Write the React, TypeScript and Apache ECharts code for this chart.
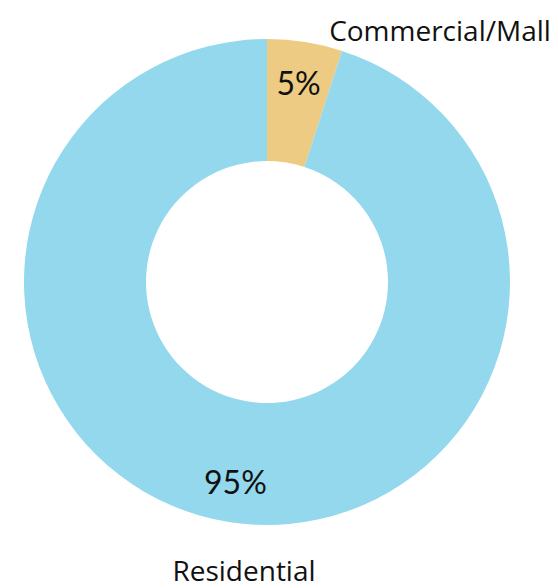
import React, { useEffect, useRef } from "react";
import * as echarts from "echarts";

const categories = ["Commercial/Mall", "Residential"];
const values = [5, 95];
const colors = ["#EDCB82", "#94D8EE"];

export default function App() {
  const ref = useRef<HTMLDivElement>(null);
  useEffect(() => {
    document.body.style.margin = "0";
    const chart = echarts.init(ref.current!, null, { renderer: "svg" });
    const data = categories.map((name, i) => ({ name, value: values[i], itemStyle: { color: colors[i] } }));
    const namePos: Record<number, [number, number]> = { 0: [440, 30], 1: [244, 570] };
    chart.setOption({
      animation: false,
      backgroundColor: "#ffffff",
      series: [
        {
          type: "pie",
          center: [267, 282],
          radius: [121, 243],
          startAngle: 90,
          clockwise: true,
          silent: true,
          data,
          itemStyle: { borderWidth: 0 },
          label: {
            show: true,
            position: "outside",
            formatter: "{b}",
            color: "#111111",
            fontSize: 28,
            lineHeight: 28,
            overflow: "none",
            width: 400,
            fontFamily: "'Open Sans', sans-serif",
          },
          labelLine: { show: false },
          labelLayout: (p: any) => {
            const pos = namePos[p.dataIndex];
            return { x: pos[0], y: pos[1], align: "center", verticalAlign: "middle" };
          },
        },
        {
          type: "pie",
          center: [267, 282],
          radius: [158, 240],
          startAngle: 90,
          clockwise: true,
          silent: true,
          data: categories.map((name, i) => ({ name, value: values[i] })),
          itemStyle: { color: "rgba(0,0,0,0)", borderWidth: 0 },
          label: {
            show: true,
            position: "inside",
            formatter: "{d}%",
            color: "#111111",
            fontSize: 32,
            fontFamily: "Lato, 'Noto Sans', sans-serif",
          },
          labelLine: { show: false },
        },
      ],
    });
    return () => chart.dispose();
  }, []);
  return <div ref={ref} style={{ position: "absolute", left: 0, top: 0, width: 558, height: 588 }} />;
}
